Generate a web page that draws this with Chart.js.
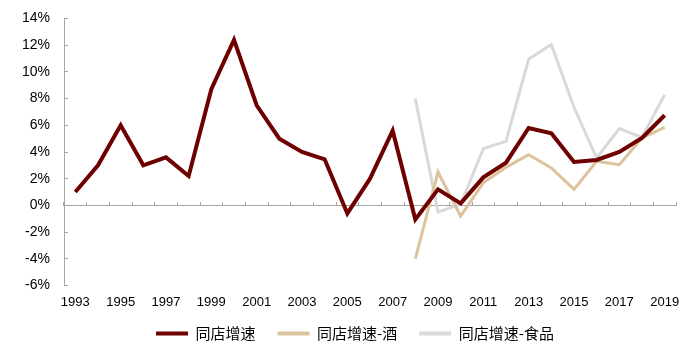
<!DOCTYPE html>
<html>
<head>
<meta charset="utf-8">
<script src="https://cdn.jsdelivr.net/npm/chart.js@4/dist/chart.umd.min.js"></script>
<style>
  html, body { margin: 0; padding: 0; background: #fff; }
  #wrap { width: 700px; height: 352px; }
</style>
</head>
<body>
<div id="wrap"><canvas id="chart"></canvas></div>
<script>
const years = ['1993','1994','1995','1996','1997','1998','1999','2000','2001','2002','2003','2004','2005','2006',
  '2007','2008','2009','2010','2011','2012','2013','2014','2015','2016','2017','2018','2019'];

// 同店增速 (%)
const sssAll = [1.0, 3.0, 6.0, 3.0, 3.6, 2.2, 8.7, 12.4, 7.5, 5.0, 4.0, 3.45, -0.6, 2.0,
  5.6, -1.05, 1.2, 0.15, 2.1, 3.2, 5.8, 5.4, 3.25, 3.4, 4.0, 5.05, 6.75];
// 同店增速-酒 (%), from 2008
const sssWine = [null, null, null, null, null, null, null, null, null, null, null, null, null, null,
  null, -4.0, 2.5, -0.8, 1.7, 2.85, 3.8, 2.8, 1.2, 3.3, 3.05, 5.05, 5.85];
// 同店增速-食品 (%), from 2008
const sssFood = [null, null, null, null, null, null, null, null, null, null, null, null, null, null,
  null, 8.0, -0.5, 0.1, 4.25, 4.8, 10.95, 12.05, 7.35, 3.55, 5.75, 5.1, 8.3];

const yTicks = { min: -6, max: 14, step: 2 };

const axisGrey = '#a6a6a6';

// legend sits a little right of centre in the original
const legendShift = {
  id: 'legendShift',
  afterLayout(chart) {
    const lg = chart.legend;
    if (lg) { lg.left += 17; lg.right += 17; }
  }
};

new Chart(document.getElementById('chart'), {
  type: 'line',
  data: {
    labels: years,
    datasets: [
      { label: '同店增速', data: sssAll, borderColor: '#6e0000', backgroundColor: '#6e0000', borderWidth: 4 },
      { label: '同店增速-酒', data: sssWine, borderColor: '#dcc39c', backgroundColor: '#dcc39c', borderWidth: 3 },
      { label: '同店增速-食品', data: sssFood, borderColor: '#d9d9d9', backgroundColor: '#d9d9d9', borderWidth: 3 }
    ]
  },
  plugins: [legendShift],
  options: {
    responsive: true,
    maintainAspectRatio: false,
    animation: false,
    elements: { point: { radius: 0 }, line: { tension: 0 } },
    layout: { padding: { left: 0, right: 24, top: 18.5, bottom: 1 } },
    plugins: {
      tooltip: { enabled: false },
      legend: {
        position: 'bottom',
        labels: {
          boxWidth: 32,
          boxHeight: 4,
          padding: 22,
          color: '#000',
          font: { family: '"Noto Sans CJK SC", sans-serif', size: 15 },
          generateLabels: chart => Chart.defaults.plugins.legend.labels.generateLabels(chart)
            .map(l => Object.assign(l, { lineWidth: 0 }))
        }
      }
    },
    scales: {
      // bottom axis only reserves room between the plot and the legend
      x: {
        type: 'category',
        offset: true,
        afterFit: s => { s.height = 18.5; },
        grid: { display: false },
        border: { display: false },
        ticks: { display: false }
      },
      // zero line with small inward ticks between categories
      x2: {
        type: 'category',
        labels: years,
        position: { y: 0 },
        offset: true,
        grid: { display: true, drawOnChartArea: false, offset: true, tickLength: -4, color: axisGrey },
        border: { display: true, color: axisGrey, width: 1 },
        ticks: { display: false }
      },
      // year labels hung below the -6% line
      x3: {
        type: 'category',
        labels: years,
        position: { y: yTicks.min },
        offset: true,
        grid: { display: false, drawTicks: false },
        border: { display: false },
        ticks: {
          autoSkip: false,
          maxRotation: 0,
          padding: 9,
          color: '#000',
          font: { family: '"Liberation Sans", Arial, sans-serif', size: 13 },
          callback: function (v, i) { return i % 2 === 0 ? this.getLabelForValue(v) : ''; }
        }
      },
      y: {
        min: yTicks.min,
        max: yTicks.max,
        afterFit: s => { s.width = 64; s.paddingTop = 0; s.paddingBottom = 0; },
        grid: { drawOnChartArea: false, tickLength: -4, color: axisGrey },
        border: { display: true, color: axisGrey, width: 1 },
        ticks: {
          stepSize: yTicks.step,
          padding: 18,
          color: '#000',
          font: { family: '"Liberation Sans", Arial, sans-serif', size: 14 },
          callback: v => v + '%'
        }
      }
    }
  }
});
</script>
</body>
</html>
